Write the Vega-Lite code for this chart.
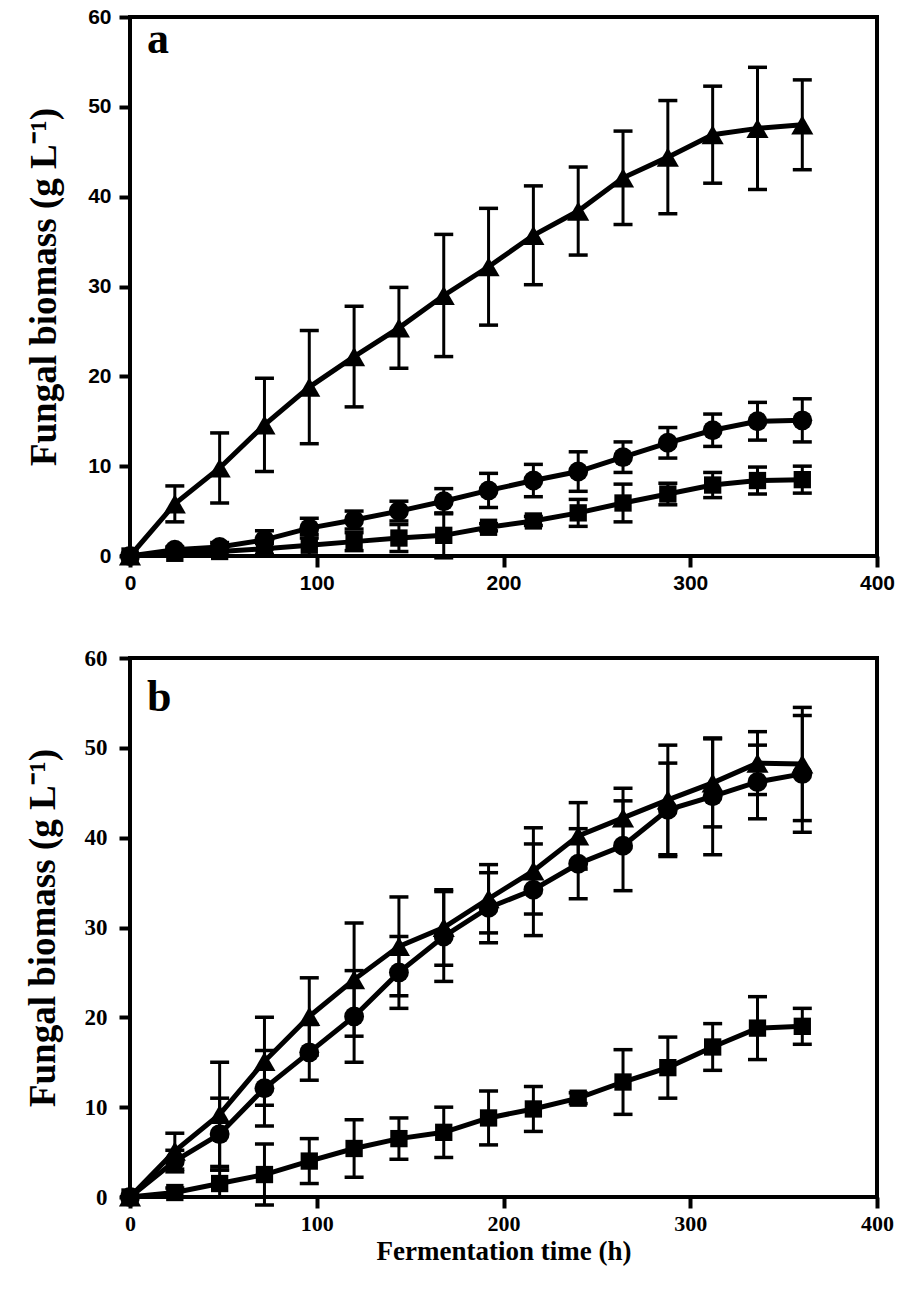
{
  "$schema": "https://vega.github.io/schema/vega-lite/v6.json",
  "padding": {"left": 22, "top": 4, "right": 5, "bottom": 5},
  "background": "white",
  "spacing": 50,
  "datasets": {
    "a": [
      {"s": "tri", "t": 0, "v": 0, "e": 0},
      {"s": "tri", "t": 24, "v": 5.8, "e": 2.0},
      {"s": "tri", "t": 48, "v": 9.8, "e": 3.9},
      {"s": "tri", "t": 72, "v": 14.6, "e": 5.2},
      {"s": "tri", "t": 96, "v": 18.8, "e": 6.3},
      {"s": "tri", "t": 120, "v": 22.2, "e": 5.6},
      {"s": "tri", "t": 144, "v": 25.4, "e": 4.5},
      {"s": "tri", "t": 168, "v": 29.0, "e": 6.8},
      {"s": "tri", "t": 192, "v": 32.2, "e": 6.5},
      {"s": "tri", "t": 216, "v": 35.7, "e": 5.5},
      {"s": "tri", "t": 240, "v": 38.4, "e": 4.9},
      {"s": "tri", "t": 264, "v": 42.1, "e": 5.2},
      {"s": "tri", "t": 288, "v": 44.4, "e": 6.3},
      {"s": "tri", "t": 312, "v": 46.9, "e": 5.4},
      {"s": "tri", "t": 336, "v": 47.6, "e": 6.8},
      {"s": "tri", "t": 360, "v": 48.0, "e": 5.0},
      {"s": "circ", "t": 0, "v": 0, "e": 0},
      {"s": "circ", "t": 24, "v": 0.7, "e": 0.3},
      {"s": "circ", "t": 48, "v": 1.0, "e": 0.5},
      {"s": "circ", "t": 72, "v": 1.8, "e": 1.0},
      {"s": "circ", "t": 96, "v": 3.1, "e": 1.1},
      {"s": "circ", "t": 120, "v": 4.0, "e": 1.0},
      {"s": "circ", "t": 144, "v": 5.0, "e": 1.1},
      {"s": "circ", "t": 168, "v": 6.1, "e": 1.4},
      {"s": "circ", "t": 192, "v": 7.3, "e": 1.9},
      {"s": "circ", "t": 216, "v": 8.4, "e": 1.8},
      {"s": "circ", "t": 240, "v": 9.4, "e": 2.2},
      {"s": "circ", "t": 264, "v": 11.0, "e": 1.7},
      {"s": "circ", "t": 288, "v": 12.6, "e": 1.7},
      {"s": "circ", "t": 312, "v": 14.0, "e": 1.8},
      {"s": "circ", "t": 336, "v": 15.0, "e": 2.1},
      {"s": "circ", "t": 360, "v": 15.1, "e": 2.4},
      {"s": "sq", "t": 0, "v": 0, "e": 0},
      {"s": "sq", "t": 24, "v": 0.3, "e": 0.2},
      {"s": "sq", "t": 48, "v": 0.5, "e": 0.4},
      {"s": "sq", "t": 72, "v": 0.8, "e": 0.6},
      {"s": "sq", "t": 96, "v": 1.2, "e": 1.2},
      {"s": "sq", "t": 120, "v": 1.6, "e": 1.0},
      {"s": "sq", "t": 144, "v": 2.0, "e": 1.5},
      {"s": "sq", "t": 168, "v": 2.3, "e": 2.5},
      {"s": "sq", "t": 192, "v": 3.2, "e": 0.4},
      {"s": "sq", "t": 216, "v": 3.9, "e": 0.5},
      {"s": "sq", "t": 240, "v": 4.8, "e": 1.5},
      {"s": "sq", "t": 264, "v": 5.9, "e": 2.1},
      {"s": "sq", "t": 288, "v": 6.9, "e": 1.2},
      {"s": "sq", "t": 312, "v": 7.9, "e": 1.4},
      {"s": "sq", "t": 336, "v": 8.4, "e": 1.5},
      {"s": "sq", "t": 360, "v": 8.5, "e": 1.5}
    ],
    "b": [
      {"s": "tri", "t": 0, "v": 0, "e": 0},
      {"s": "tri", "t": 24, "v": 5.1, "e": 2.0},
      {"s": "tri", "t": 48, "v": 9.2, "e": 5.8},
      {"s": "tri", "t": 72, "v": 15.1, "e": 4.9},
      {"s": "tri", "t": 96, "v": 20.1, "e": 4.3},
      {"s": "tri", "t": 120, "v": 24.2, "e": 6.3},
      {"s": "tri", "t": 144, "v": 27.9, "e": 5.5},
      {"s": "tri", "t": 168, "v": 30.0, "e": 4.2},
      {"s": "tri", "t": 192, "v": 33.2, "e": 3.8},
      {"s": "tri", "t": 216, "v": 36.3, "e": 4.8},
      {"s": "tri", "t": 240, "v": 40.2, "e": 3.7},
      {"s": "tri", "t": 264, "v": 42.2, "e": 3.3},
      {"s": "tri", "t": 288, "v": 44.2, "e": 6.1},
      {"s": "tri", "t": 312, "v": 46.1, "e": 4.9},
      {"s": "tri", "t": 336, "v": 48.3, "e": 3.5},
      {"s": "tri", "t": 360, "v": 48.2, "e": 6.3},
      {"s": "circ", "t": 0, "v": 0, "e": 0},
      {"s": "circ", "t": 24, "v": 4.0, "e": 1.2},
      {"s": "circ", "t": 48, "v": 7.0, "e": 4.0},
      {"s": "circ", "t": 72, "v": 12.1, "e": 4.2},
      {"s": "circ", "t": 96, "v": 16.1, "e": 3.1},
      {"s": "circ", "t": 120, "v": 20.1, "e": 5.1},
      {"s": "circ", "t": 144, "v": 25.0, "e": 4.0},
      {"s": "circ", "t": 168, "v": 29.0, "e": 5.0},
      {"s": "circ", "t": 192, "v": 32.2, "e": 3.9},
      {"s": "circ", "t": 216, "v": 34.2, "e": 5.1},
      {"s": "circ", "t": 240, "v": 37.1, "e": 3.9},
      {"s": "circ", "t": 264, "v": 39.1, "e": 5.0},
      {"s": "circ", "t": 288, "v": 43.1, "e": 5.2},
      {"s": "circ", "t": 312, "v": 44.6, "e": 6.5},
      {"s": "circ", "t": 336, "v": 46.2, "e": 4.1},
      {"s": "circ", "t": 360, "v": 47.1, "e": 6.5},
      {"s": "sq", "t": 0, "v": 0, "e": 0},
      {"s": "sq", "t": 24, "v": 0.5, "e": 0.5},
      {"s": "sq", "t": 48, "v": 1.5, "e": 1.5},
      {"s": "sq", "t": 72, "v": 2.5, "e": 3.4},
      {"s": "sq", "t": 96, "v": 4.0, "e": 2.5},
      {"s": "sq", "t": 120, "v": 5.4, "e": 3.2},
      {"s": "sq", "t": 144, "v": 6.5, "e": 2.3},
      {"s": "sq", "t": 168, "v": 7.2, "e": 2.8},
      {"s": "sq", "t": 192, "v": 8.8, "e": 3.0},
      {"s": "sq", "t": 216, "v": 9.8, "e": 2.5},
      {"s": "sq", "t": 240, "v": 11.0, "e": 0.6},
      {"s": "sq", "t": 264, "v": 12.8, "e": 3.6},
      {"s": "sq", "t": 288, "v": 14.4, "e": 3.4},
      {"s": "sq", "t": 312, "v": 16.7, "e": 2.6},
      {"s": "sq", "t": 336, "v": 18.8, "e": 3.5},
      {"s": "sq", "t": 360, "v": 19.0, "e": 2.0}
    ]
  },
  "vconcat": [
    {
      "width": 747,
      "height": 539,
      "data": {"name": "a"},
      "title": {"text": "a", "anchor": "start", "frame": "group", "font": "Liberation Serif", "fontSize": 44, "fontWeight": "bold", "color": "black", "offset": -56, "dx": 17},
      "encoding": {
        "x": {"field": "t", "type": "quantitative", "scale": {"domain": [0, 400], "nice": false},
              "axis": {"values": [0, 100, 200, 300, 400], "title": null, "grid": false, "domain": false, "tickSize": 11, "tickWidth": 4, "tickColor": "black", "labelFont": "Liberation Sans", "labelFontWeight": "bold", "labelFontSize": 21, "labelColor": "black", "labelPadding": 5}},
        "y": {"field": "v", "type": "quantitative", "scale": {"domain": [0, 60], "nice": false},
              "axis": {"values": [0, 10, 20, 30, 40, 50, 60], "title": "Fungal biomass (g L⁻¹)", "grid": false, "domain": false, "tickSize": 11, "tickWidth": 4, "tickColor": "black", "labelFont": "Liberation Sans", "labelFontWeight": "bold", "labelFontSize": 21, "labelColor": "black", "labelPadding": 8, "titleFont": "Liberation Serif", "titleFontSize": 37, "titleFontWeight": "bold", "titleColor": "black", "titlePadding": 24}}
      },
      "layer": [
        {"mark": {"type": "errorbar", "ticks": {"size": 19, "thickness": 3.5, "color": "black", "opacity": 1}, "rule": {"strokeWidth": 3, "color": "black", "opacity": 1}},
         "encoding": {"yError": {"field": "e"}, "detail": {"field": "s"}}},
        {"mark": {"type": "line", "color": "black", "strokeWidth": 5}, "encoding": {"detail": {"field": "s"}}},
        {"mark": {"type": "point", "filled": true, "color": "black", "opacity": 1},
         "encoding": {
           "shape": {"field": "s", "type": "nominal", "scale": {"domain": ["tri", "circ", "sq"], "range": ["triangle-up", "circle", "square"]}, "legend": null},
           "size": {"field": "s", "type": "nominal", "scale": {"domain": ["tri", "circ", "sq"], "range": [490, 300, 256]}, "legend": null}
         }}
      ]
    },
    {
      "width": 747,
      "height": 539,
      "data": {"name": "b"},
      "title": {"text": "b", "anchor": "start", "frame": "group", "font": "Liberation Serif", "fontSize": 44, "fontWeight": "bold", "color": "black", "offset": -73, "dx": 17},
      "encoding": {
        "x": {"field": "t", "type": "quantitative", "scale": {"domain": [0, 400], "nice": false},
              "axis": {"values": [0, 100, 200, 300, 400], "title": "Fermentation time (h)", "grid": false, "domain": false, "tickSize": 11, "tickWidth": 4, "tickColor": "black", "labelFont": "Liberation Serif", "labelFontWeight": "bold", "labelFontSize": 22, "labelColor": "black", "labelPadding": 5, "titleFont": "Liberation Serif", "titleFontSize": 27, "titleFontWeight": "bold", "titleColor": "black", "titlePadding": 4}},
        "y": {"field": "v", "type": "quantitative", "scale": {"domain": [0, 60], "nice": false},
              "axis": {"values": [0, 10, 20, 30, 40, 50, 60], "title": "Fungal biomass (g L⁻¹)", "grid": false, "domain": false, "tickSize": 11, "tickWidth": 4, "tickColor": "black", "labelFont": "Liberation Serif", "labelFontWeight": "bold", "labelFontSize": 23, "labelColor": "black", "labelPadding": 12, "titleFont": "Liberation Serif", "titleFontSize": 37, "titleFontWeight": "bold", "titleColor": "black", "titlePadding": 22}}
      },
      "layer": [
        {"mark": {"type": "errorbar", "ticks": {"size": 19, "thickness": 3.5, "color": "black", "opacity": 1}, "rule": {"strokeWidth": 3, "color": "black", "opacity": 1}},
         "encoding": {"yError": {"field": "e"}, "detail": {"field": "s"}}},
        {"mark": {"type": "line", "color": "black", "strokeWidth": 5}, "encoding": {"detail": {"field": "s"}}},
        {"mark": {"type": "point", "filled": true, "color": "black", "opacity": 1},
         "encoding": {
           "shape": {"field": "s", "type": "nominal", "scale": {"domain": ["tri", "circ", "sq"], "range": ["triangle-up", "circle", "square"]}, "legend": null},
           "size": {"field": "s", "type": "nominal", "scale": {"domain": ["tri", "circ", "sq"], "range": [490, 300, 256]}, "legend": null}
         }}
      ]
    }
  ],
  "resolve": {"scale": {"shape": "independent", "size": "independent"}},
  "config": {
    "view": {"stroke": "black", "strokeWidth": 4},
    "axis": {"labelFlush": false, "labelOverlap": false}
  }
}
